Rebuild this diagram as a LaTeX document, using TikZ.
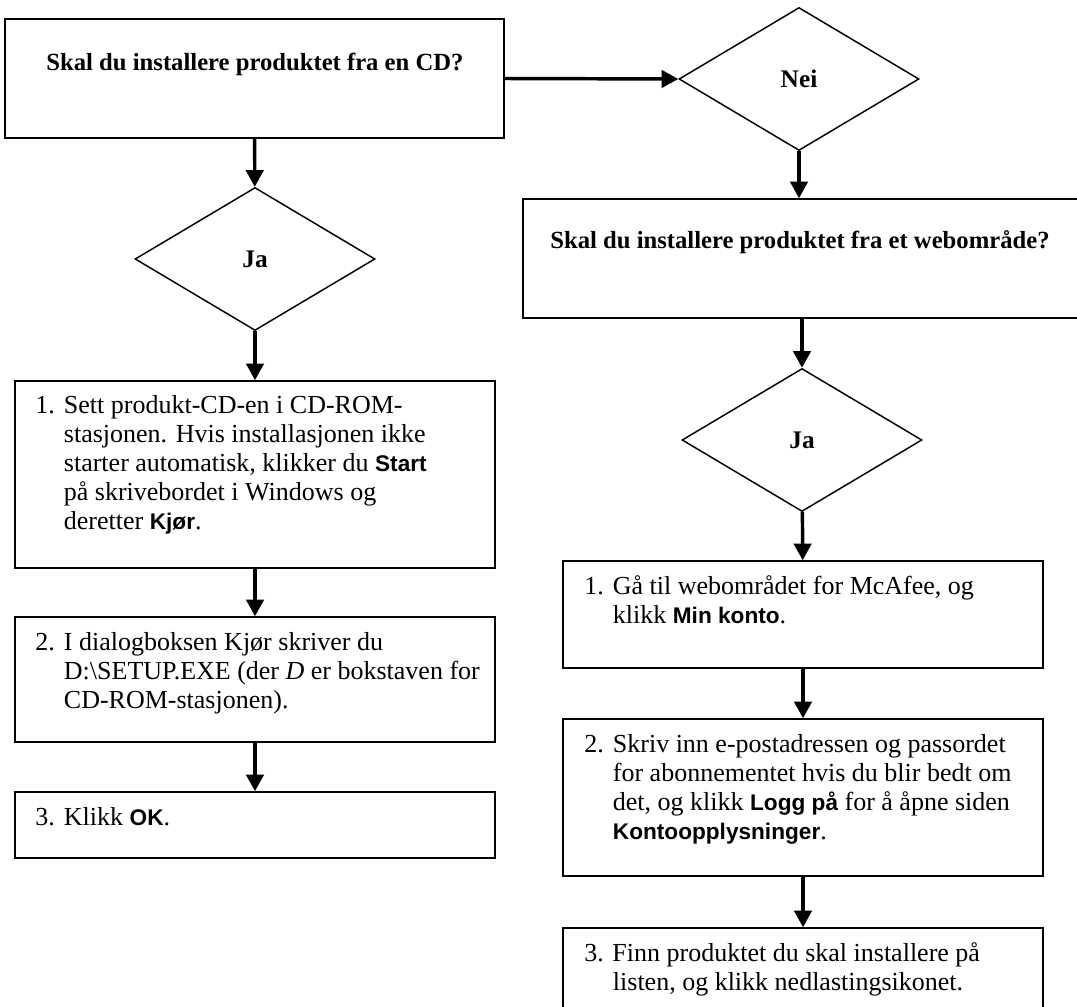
\documentclass[tikz,border=0pt]{standalone}
\usepackage{fontspec}
\setmainfont{Liberation Serif}
\newfontfamily\uifont[Scale=0.87]{Liberation Sans}
\usetikzlibrary{shapes.geometric}
\usetikzlibrary{arrows.meta}
\newcommand{\ui}[1]{{\uifont\bfseries #1}}

\begin{document}
\begin{tikzpicture}[x=0.75pt,y=-0.75pt,
    box/.style={draw,line width=1.1pt,rectangle,inner sep=0pt},
    choice/.style={draw,line width=1.1pt,diamond,inner sep=0pt,
      minimum width=180pt,minimum height=107.25pt,
      font=\fontsize{19}{21.75}\selectfont\bfseries},
    flow/.style={line width=2.6pt,-{Triangle[width=13pt,length=12.5pt]}},
    steptext/.style={anchor=north west,inner sep=0pt,align=left,
      font=\fontsize{19.5}{21.75}\selectfont},
    headtext/.style={anchor=base,inner sep=0pt,
      font=\fontsize{18.5}{21.75}\selectfont\bfseries}
    ]
  \useasboundingbox (0,0) rectangle (1077,1006);

  % left column: from a CD
  \node[box,minimum width=374.25pt,minimum height=89.25pt] (cd) at (254.5,78.5) {};
  \node[choice] (ja1) at (255,259) {Ja};
  \node[box,minimum width=360pt,minimum height=140.25pt] (cd1) at (255,474.5) {};
  \node[box,minimum width=360pt,minimum height=93.75pt] (cd2) at (255,679.5) {};
  \node[box,minimum width=360pt,minimum height=49.5pt] (cd3) at (255,825) {};

  % right column: from the web
  \node[choice] (nei) at (799,79) {Nei};
  \node[box,minimum width=421.5pt,minimum height=89.25pt] (web) at (804,258.5) {};
  \node[choice] (ja2) at (802,440) {Ja};
  \node[box,minimum width=360pt,minimum height=80.25pt] (web1) at (803,614.5) {};
  \node[box,minimum width=360pt,minimum height=117.75pt] (web2) at (803,797.5) {};
  \node[box,minimum width=360pt,minimum height=69pt] (web3) at (803,974) {};

  % texts
  \node[headtext] (cdq) at (255,70) {Skal du installere produktet fra en CD?};
  \node[headtext] (webq) at (800,248) {Skal du installere produktet fra et webområde?};
  \node[steptext] (cd1t) at (35,395) {\makebox[21.5pt][l]{1.}Sett produkt-CD-en i CD-ROM-\\
    \hspace*{21.5pt}stasjonen. Hvis installasjonen ikke\\
    \hspace*{21.5pt}starter automatisk, klikker du \ui{Start}\\
    \hspace*{21.5pt}på skrivebordet i Windows og\\
    \hspace*{21.5pt}deretter \ui{Kjør}.};
  \node[steptext] (cd2t) at (35,632) {\makebox[21.5pt][l]{2.}I dialogboksen Kjør skriver du\\
    \hspace*{21.5pt}D:\textbackslash SETUP.EXE (der \textit{D} er bokstaven for\\
    \hspace*{21.5pt}CD-ROM-stasjonen).};
  \node[steptext] (cd3t) at (35,807) {\makebox[21.5pt][l]{3.}Klikk \ui{OK}.};
  \node[steptext] (web1t) at (584,575) {\makebox[21.5pt][l]{1.}Gå til webområdet for McAfee, og\\
    \hspace*{21.5pt}klikk \ui{Min konto}.};
  \node[steptext] (web2t) at (584,734) {\makebox[21.5pt][l]{2.}Skriv inn e-postadressen og passordet\\
    \hspace*{21.5pt}for abonnementet hvis du blir bedt om\\
    \hspace*{21.5pt}det, og klikk \ui{Logg på} for å åpne siden\\
    \hspace*{21.5pt}\ui{Kontoopplysninger}.};
  \node[steptext] (web3t) at (584,942) {3. Finn produktet du skal installere på\\
    \hspace*{21.5pt}listen, og klikk nedlastingsikonet.};

  % connectors
  \draw[flow] (cd.east) -- (nei.west);
  \draw[flow] (cd) -- (ja1);
  \draw[flow] (ja1) -- (cd1);
  \draw[flow] (cd1) -- (cd2);
  \draw[flow] (cd2) -- (cd3);
  \draw[flow] (nei.south) -- (nei.south |- web.north);
  \draw[flow] (web.south -| ja2.north) -- (ja2.north);
  \draw[flow] (ja2) -- (web1);
  \draw[flow] (web1) -- (web2);
  \draw[flow] (web2) -- (web3);
\end{tikzpicture}
\end{document}
